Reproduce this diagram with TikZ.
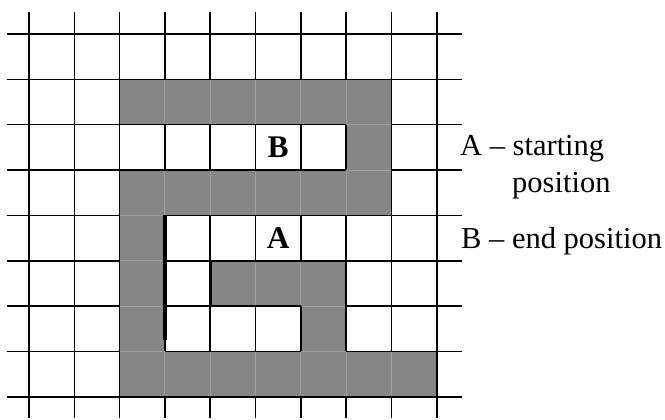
\documentclass[tikz,border=0pt]{standalone}
\usepackage{fontspec}
\setmainfont{Liberation Serif}
\definecolor{cellgray}{RGB}{134,134,134}
\definecolor{lightln}{RGB}{160,160,160}
\begin{document}
\begin{tikzpicture}[
  gline/.style={line width=1.6pt, black},
  lline/.style={line width=1pt, draw=lightln},
  bline/.style={line width=1.6pt, black},
  tline/.style={line width=3.4pt, black},
  grayfill/.style={fill=cellgray},
  txt/.style={inner sep=0pt, anchor=base west, font=\fontsize{30.5}{36}\selectfont},
  celltxt/.style={inner sep=0pt, anchor=center, font=\fontsize{31.5}{36}\selectfont\bfseries},
]
\useasboundingbox (0,0) rectangle (665pt,-420pt);
\fill[white] (0,0) rectangle (665pt,-420pt);
\begin{scope}[shift={(29pt,-34pt)}, x=45.3pt, y=-45.35pt]
  % black grid
  \foreach \i in {0,...,9} \draw[gline] (\i,-0.485) -- (\i,8.467);
  \foreach \j in {0,...,8} \draw[gline] (-0.486,\j) -- (9.55,\j);
  % gray cells
  \def\graycells{(2,1) rectangle (8,2) (7,2) rectangle (8,3) (2,3) rectangle (8,4)
    (2,4) rectangle (3,7) (4,5) rectangle (7,6) (6,6) rectangle (7,7) (2,7) rectangle (9,8)}
  \fill[grayfill] \graycells;
  \begin{scope}
    \clip \graycells;
    \foreach \i in {0,...,9} \draw[lline] (\i,-0.485) -- (\i,8.467);
    \foreach \j in {0,...,8} \draw[lline] (-0.486,\j) -- (9.55,\j);
  \end{scope}
  % boundaries of the gray region
  \draw[bline] (2,1) -- (8,1) (2,2) -- (7,2) (2,3) -- (7,3) (3,4) -- (8,4)
    (4,5) -- (7,5) (4,6) -- (6,6) (3,7) -- (6,7) (7,7) -- (9,7) (2,8) -- (9,8);
  \draw[bline] (2,1) -- (2,2) (2,3) -- (2,8) (3,6.75) -- (3,7) (6,6) -- (6,7)
    (7,2) -- (7,3) (7,5) -- (7,7) (8,1) -- (8,4) (9,7) -- (9,8);
  \draw[tline] (3,4) -- (3,6.75) (4,5) -- (4,6);
  % cell labels
  \node[celltxt] (B) at (5.5,2.5) {B};
  \node[celltxt] (A) at (5.5,4.5) {A};
\end{scope}
\node[txt] (la) at (460pt,-156pt) {A – starting};
\node[txt] (lp) at (512pt,-193pt) {position};
\node[txt] (lb) at (461pt,-248pt) {B – end position};
\end{tikzpicture}
\end{document}
